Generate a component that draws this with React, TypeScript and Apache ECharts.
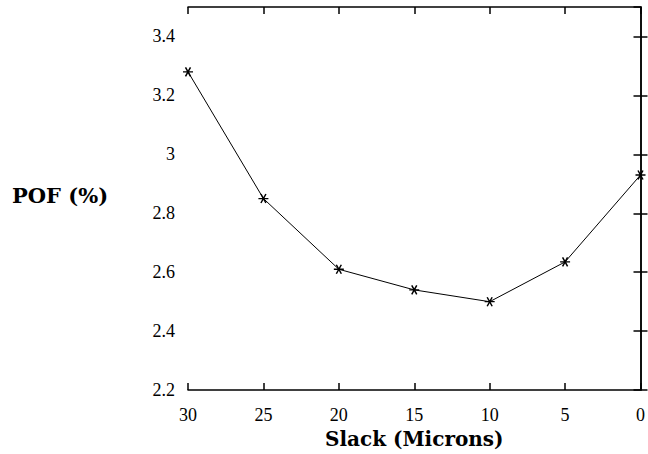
import React, { useEffect, useRef } from "react";
import * as echarts from "echarts";

const slack = [30, 25, 20, 15, 10, 5, 0];
const pof = [3.28, 2.85, 2.61, 2.54, 2.5, 2.635, 2.93];
const xTitle = "Slack (Microns)";
const yTitle = "POF (%)";

const FONT = "'Liberation Serif', serif";
const TFONT = "'DejaVu Serif', serif";
const star = "path://M-5,0 L5,0 M-2.5,-4.33 L2.5,4.33 M2.5,-4.33 L-2.5,4.33";

export default function App() {
  const ref = useRef<HTMLDivElement>(null);
  useEffect(() => {
    if (!ref.current) return;
    const chart = echarts.init(ref.current, undefined, { renderer: "svg" });
    const axisLine = { show: true, lineStyle: { color: "#000", width: 1.5 } };
    const tick = { show: true, inside: true, length: 7, lineStyle: { color: "#000", width: 1.5 } };
    chart.setOption({
      animation: false,
      backgroundColor: "#fff",
      grid: { left: 188, right: 3, top: 7, bottom: 60, show: false },
      xAxis: [
        {
          type: "value",
          min: 0,
          max: 30,
          interval: 5,
          inverse: true,
          position: "bottom",
          axisLine,
          axisTick: tick,
          splitLine: { show: false },
          axisLabel: { color: "#000", fontFamily: FONT, fontSize: 18, margin: 16 },
          name: xTitle,
          nameLocation: "middle",
          nameGap: 34,
          nameTextStyle: { color: "#000", fontFamily: TFONT, fontSize: 20, fontWeight: "bold" },
        },
        {
          type: "value",
          min: 0,
          max: 30,
          interval: 5,
          inverse: true,
          position: "top",
          axisLine,
          axisTick: tick,
          splitLine: { show: false },
          axisLabel: { show: false },
        },
      ],
      yAxis: [
        {
          type: "value",
          min: 2.2,
          max: 3.5,
          interval: 0.2,
          position: "left",
          axisLine,
          axisTick: tick,
          splitLine: { show: false },
          axisLabel: { color: "#000", fontFamily: FONT, fontSize: 18, margin: 13, showMaxLabel: false },
        },
        {
          type: "value",
          min: 2.2,
          max: 3.5,
          interval: 0.2,
          position: "right",
          axisLine,
          axisTick: tick,
          splitLine: { show: false },
          axisLabel: { show: false },
        },
      ],
      graphic: [
        {
          type: "text",
          left: 12,
          top: 185,
          style: { text: yTitle, fill: "#000", font: "bold 21px 'DejaVu Serif', serif" },
        },
      ],
      series: [
        {
          type: "line",
          data: slack.map((s, i) => [s, pof[i]]),
          symbol: star,
          symbolSize: [10, 9],
          itemStyle: { color: "#000", borderColor: "#000", borderWidth: 1.4 },
          lineStyle: { color: "#000", width: 1 },
        },
      ],
    });
    return () => chart.dispose();
  }, []);
  return (
    <div
      ref={ref}
      style={{ position: "fixed", left: 0, top: 0, width: 648, height: 454 }}
    />
  );
}
